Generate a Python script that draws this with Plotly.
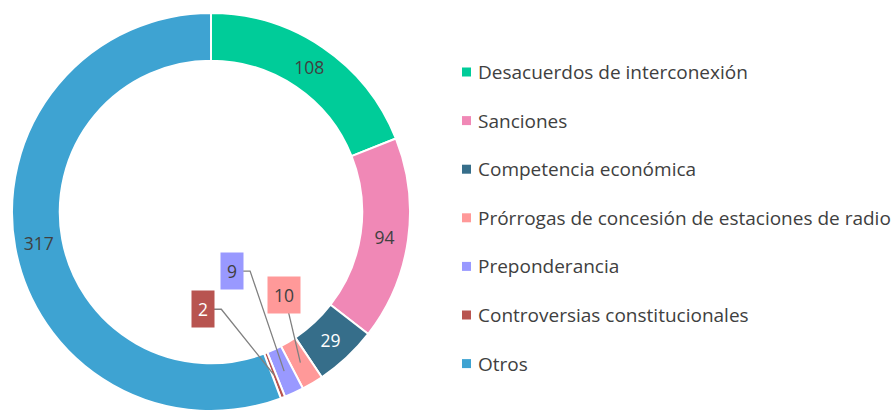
import math
import plotly.graph_objects as go

labels = ["Desacuerdos de interconexión", "Sanciones", "Competencia económica",
          "Prórrogas de concesión de estaciones de radio", "Preponderancia",
          "Controversias constitucionales", "Otros"]
values = [108, 94, 29, 10, 9, 2, 317]
colors = ["#00CC99", "#F088B6", "#366E8A", "#FF9999", "#9999FF", "#B85450", "#3EA3D2"]
inside_text_colors = ["#404040", "#404040", "#FFFFFF", "#404040", "#404040", "#FFFFFF", "#404040"]
outside_text_colors = {3: "#404040", 4: "#404040", 5: "#FFFFFF"}
# pixel offsets of the callout boxes for small slices (styling)
callout_offsets = {3: (-16, -68), 4: (-52, -100), 5: (-71, -66)}
# horizontal elbow length from box centre (styling)
elbow = {3: 0, 4: 18, 5: 18}

W, H = 894, 411
FONT = "'Open Sans', sans-serif"
cx, cy, R = 211, 212, 199
hole = 0.76

dom_x = [(cx - R) / W, (cx + R) / W]
dom_y = [(H - cy - R) / H, (H - cy + R) / H]

texts = ["" if i in callout_offsets else str(v) for i, v in enumerate(values)]

fig = go.Figure(go.Pie(
    labels=labels, values=values, sort=False, direction="clockwise", rotation=0,
    hole=hole, marker=dict(colors=colors, line=dict(color="white", width=2)),
    text=texts, textinfo="text", textposition="inside",
    insidetextorientation="horizontal",
    textfont=dict(family=FONT, size=17.5, color=inside_text_colors),
    domain=dict(x=dom_x, y=dom_y), showlegend=False, hoverinfo="label+value",
))

def px2paper(x, y):
    return x / W, 1 - y / H

total = sum(values)
annotations = []
shapes = []
cum = 0
rmid = R * (1 + hole) / 2
for i, v in enumerate(values):
    mid = (cum + v / 2) / total
    cum += v
    if i in callout_offsets:
        ang = 2 * math.pi * mid
        tx = cx + rmid * math.sin(ang)
        ty = cy - rmid * math.cos(ang)
        ox, oy = callout_offsets[i]
        bx, by = tx + ox, ty + oy
        pts = [(bx, by)]
        if elbow[i]:
            pts.append((bx + elbow[i], by))
        pts.append((tx, ty))
        path = "M " + " L ".join(f"{px2paper(x, y)[0]:.5f},{px2paper(x, y)[1]:.5f}" for x, y in pts)
        shapes.append(dict(type="path", xref="paper", yref="paper", path=path,
                           line=dict(color="#808080", width=1.3), layer="above"))
        bxp, byp = px2paper(bx, by)
        annotations.append(dict(
            x=bxp, y=byp, xref="paper", yref="paper",
            xanchor="center", yanchor="middle",
            text=str(v), showarrow=False, bgcolor=colors[i], borderpad=6,
            font=dict(family=FONT, size=17.5, color=outside_text_colors[i]),
        ))

# legend drawn manually
leg_x0, leg_y0, leg_dy = 462, 72, 48.6
for i, lab in enumerate(labels):
    yc = leg_y0 + i * leg_dy
    shapes.append(dict(type="rect", xref="paper", yref="paper",
                       x0=leg_x0 / W, x1=(leg_x0 + 9) / W,
                       y0=1 - (yc + 4.5) / H, y1=1 - (yc - 4.5) / H,
                       fillcolor=colors[i], line=dict(width=0)))
    annotations.append(dict(
        x=(leg_x0 + 14) / W, y=1 - yc / H, xref="paper", yref="paper",
        xanchor="left", yanchor="middle", text=lab, showarrow=False,
        font=dict(family=FONT, size=19, color="#404040"),
    ))

fig.update_layout(
    width=W, height=H, margin=dict(l=0, r=0, t=0, b=0),
    paper_bgcolor="white", plot_bgcolor="white",
    annotations=annotations, shapes=shapes,
)
fig.write_html("out.html", config={"displayModeBar": False},
               post_script="document.body.style.margin='0';")
